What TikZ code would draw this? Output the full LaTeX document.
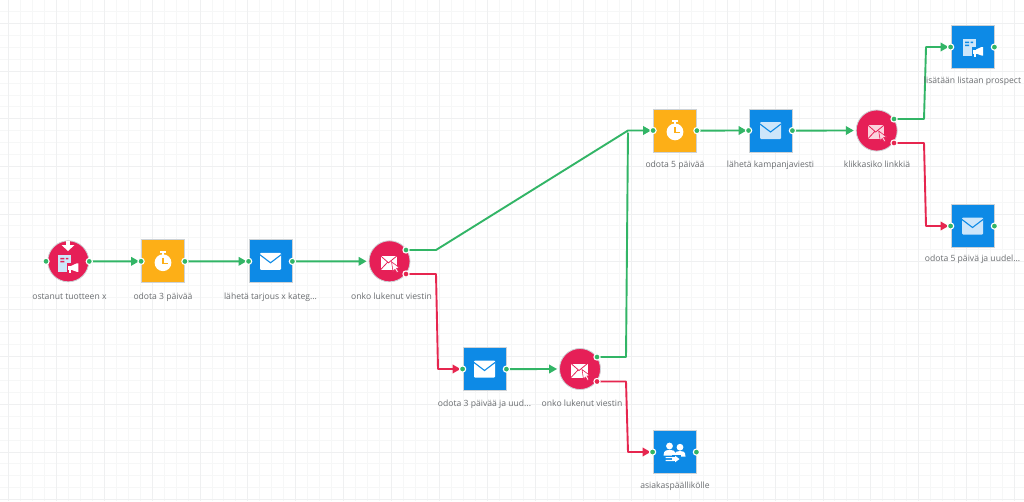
\documentclass[tikz,border=0pt]{standalone}
\usepackage{fontspec}
\setmainfont{Open Sans}
\usetikzlibrary{arrows.meta,calc}
\definecolor{bluebox}{HTML}{0D8AE6}
\definecolor{amberbox}{HTML}{FDAF17}
\definecolor{redbox}{HTML}{E61F57}
\definecolor{okline}{HTML}{32B566}
\definecolor{noline}{HTML}{E6264F}
\definecolor{gridminor}{HTML}{F6F7F7}
\definecolor{gridmajor}{HTML}{EFF0F1}
\definecolor{edgegray}{HTML}{CDD2D6}
\definecolor{txtgray}{HTML}{6A6D70}
\definecolor{palemail}{HTML}{CDE6FA}
\definecolor{palered}{HTML}{FBD3DE}
\tikzset{
  x=1pt,y=-1pt,
  sqbox/.style={draw=edgegray,line width=0.8pt,minimum size=43pt,inner sep=0pt,rectangle},
  rndbox/.style={draw=edgegray,line width=0.8pt,fill=redbox,minimum size=41pt,inner sep=0pt,circle},
  bluesq/.style={sqbox,fill=bluebox},
  ambersq/.style={sqbox,fill=amberbox},
  portdot/.style={circle,fill=okline,draw=white,line width=1.1pt,minimum size=6.2pt,inner sep=0pt},
  reddot/.style={portdot,fill=noline},
  caption/.style={text=txtgray,font=\fontsize{8.6}{10}\selectfont,inner sep=0pt,anchor=base},
  link/.style={line width=1.9pt,line join=round,-{Triangle[length=8pt,width=8.5pt]},shorten >=2pt},
  yeslink/.style={link,draw=okline},
  nolink/.style={link,draw=noline},
}
% envelope: #1 centre, #2 fill, #3 fold colour
\newcommand\mailglyph[3]{\begin{scope}[shift={(#1)}]
  \fill[#2,rounded corners=1pt] (-10.5,-8.5) rectangle (10.5,8.5);
  \draw[#3,line width=1.1pt] (-10.5,-6.5) -- (0,1.5) -- (10.5,-6.5);
\end{scope}}
% clicked envelope on a circle
\newcommand\clickglyph[3]{\begin{scope}[shift={(#1)}]
  \fill[#2] (-9,-5.5) rectangle (7.5,8.5);
  \draw[#3,line width=0.8pt] (-9,-5.5) -- (-1,1.5) -- (7.5,-5.5) (-9,8.5) -- (-2,1);
  \fill[#2,draw=#3,line width=0.6pt] (2,0.5) -- (10,6.5) -- (7,7) -- (9,10.5) -- (7.5,11.5) -- (5.5,8) -- (3.5,10) -- cycle;
\end{scope}}
% stopwatch
\newcommand\watchglyph[2]{\begin{scope}[shift={(#1)}]
  \fill[white] (0,1.4) circle (8.4);
  \fill[white] (-2.6,-10.5) rectangle (2.6,-8.6);
  \fill[white] (-1,-9) rectangle (1,-6);
  \draw[#2,line width=1.1pt] (0,-3.5) -- (0,2.4) -- (4.5,2.4);
\end{scope}}
% list sheet with megaphone
\newcommand\listglyph[2]{\begin{scope}[shift={(#1)}]
  \fill[palemail] (-9.5,-8.5) rectangle (3.5,8.5);
  \fill[#2] (-7.5,-5.5) rectangle (-3.5,-4) (-2,-5.5) rectangle (0.5,-4) (-7.5,-2.5) rectangle (-3.5,-1);
  \fill[#2] (-0.5,-0.5) rectangle (11,10);
  \fill[white] (0.5,2.5) rectangle (4,6.5);
  \fill[white] (3.5,2.5) -- (9,0) -- (10.5,0) -- (10.5,8.5) -- (9,8.5) -- (3.5,6.5) -- cycle;
  \fill[white] (1.2,6.5) rectangle (3.6,10);
\end{scope}}
% two people with an arrow
\newcommand\peopleglyph[2]{\begin{scope}[shift={(#1)}]
  \fill[white] (-5,-6) circle (3.4);
  \fill[white] (5.5,-4.8) circle (3.4);
  \fill[white] (-11,3.5) .. controls (-11,-2) and (-7,-2.2) .. (-5,-2.2) .. controls (-2,-2.2) and (1,-2) .. (1,3.5) -- cycle;
  \fill[white] (0,4.5) .. controls (0,-1) and (3,-1) .. (5.5,-1) .. controls (8,-1) and (11,-1) .. (11,4.5) -- cycle;
  \fill[#2] (-3,3.2) rectangle (6,10.5);
  \fill[white] (-9,5) rectangle (-0.5,6.2) (-9,7.8) rectangle (-0.5,9);
  \fill[white] (-3,5.2) rectangle (1,8.8);
  \fill[white] (0.5,3.7) -- (5,7) -- (0.5,10.3) -- cycle;
\end{scope}}
\begin{document}
\begin{tikzpicture}
\useasboundingbox (0,0) rectangle (1024,501);
\fill[white] (0,0) rectangle (1024,501);
% grid
\foreach \i in {0,...,85} \draw[gridminor,line width=0.9pt] ({8.3+11.98*\i},0) -- ({8.3+11.98*\i},501);
\foreach \j in {0,...,41} \draw[gridminor,line width=0.9pt] (0,{-0.2+11.9*\j}) -- (1024,{-0.2+11.9*\j});
\foreach \i in {0,...,21} \draw[gridmajor,line width=0.9pt] ({8.3+47.92*\i},0) -- ({8.3+47.92*\i},501);
\foreach \j in {0,...,10} \draw[gridmajor,line width=0.9pt] (0,{23.6+47.6*\j}) -- (1024,{23.6+47.6*\j});

% step boxes
\node[rndbox] (buy) at (68.3,261.3) {};
\node[ambersq] (wait3) at (163,261.3) {};
\node[bluesq] (offer) at (270.5,261.3) {};
\node[rndbox] (read1) at (389.5,261.3) {};
\node[bluesq] (resend) at (484.5,369) {};
\node[rndbox] (read2) at (580,369) {};
\node[bluesq] (manager) at (674.5,452) {};
\node[ambersq] (wait5) at (675,130.5) {};
\node[bluesq] (campaign) at (770.5,130.5) {};
\node[rndbox] (click) at (876.7,130.5) {};
\node[bluesq] (prospect) at (972.5,47) {};
\node[bluesq] (again) at (972.5,226) {};

% bend points and ports
\coordinate (buyOut) at (89.3,261.4);
\coordinate (buyIn) at (46,261.3);
\foreach \n in {wait3,offer,resend,manager,wait5,campaign,prospect,again} {
  \coordinate (\n In) at (\n.west);
  \coordinate (\n Out) at ($(\n.east)+(0,0.1)$);
}
\coordinate (read1Yes) at (406,250);
\coordinate (read1No) at (406,274);
\coordinate (read2Yes) at (597,357);
\coordinate (read2No) at (597,381.5);
\coordinate (clickYes) at (894,119);
\coordinate (clickNo) at (894,143);

% connectors
\draw[yeslink] (buyOut) -- (wait3In);
\draw[yeslink] (wait3Out) -- (offerIn);
\draw[yeslink] (offerOut) -- (read1.west);
\draw[yeslink] (read1Yes) -- (436,250) -- (628,130.5) -- (wait5In);
\draw[nolink] (read1No) -- (436,274) -- (438,369) -- (resendIn);
\draw[yeslink] (resendOut) -- (read2.west);
\draw[yeslink,-] (read2Yes) -- (626,357) -- (628,130.5);
\draw[nolink] (read2No) -- (626,381.5) -- (628,452) -- (managerIn);
\draw[yeslink] (wait5Out) -- (campaignIn);
\draw[yeslink] (campaignOut) -- (click.west);
\draw[yeslink] (clickYes) -- (924,119) -- (926,47) -- (prospectIn);
\draw[nolink] (clickNo) -- (924,143) -- (926,226) -- (againIn);

% ports
\node[portdot] (p1) at (buyIn) {};
\node[portdot] (p2) at (buyOut) {};
\foreach \n in {wait3,offer,resend,manager,wait5,campaign,prospect,again} {
  \node[portdot] at (\n In) {};
  \node[portdot] at (\n Out) {};
}
\node[portdot] (p3) at (read1Yes) {};
\node[reddot] (p4) at (read1No) {};
\node[portdot] (p5) at (read2Yes) {};
\node[reddot] (p6) at (read2No) {};
\node[portdot] (p7) at (clickYes) {};
\node[reddot] (p8) at (clickNo) {};

% icons
\listglyph{$(buy)+(-0.5,2)$}{redbox}
\fill[white] (65.6,240.5) rectangle (70.4,245.5);
\fill[white] (61.5,245) -- (74.5,245) -- (68,251) -- cycle;
\watchglyph{wait3}{amberbox}
\watchglyph{wait5}{amberbox}
\mailglyph{offer}{white}{bluebox}
\mailglyph{resend}{white}{bluebox}
\mailglyph{campaign}{palemail}{bluebox}
\mailglyph{again}{palemail}{bluebox}
\clickglyph{read1}{white}{redbox}
\clickglyph{read2}{white}{redbox}
\clickglyph{click}{palered}{redbox}
\peopleglyph{manager}{bluebox}
\listglyph{prospect}{bluebox}

% captions
\node[caption] (t1) at (69.5,299) {ostanut tuotteen x};
\node[caption] (t2) at (163,299) {odota 3 päivää};
\node[caption] (t3) at (270.5,299) {lähetä tarjous x kateg...};
\node[caption] (t4) at (391.5,299) {onko lukenut viestin};
\node[caption] (t5) at (484.5,406) {odota 3 päivää ja uud...};
\node[caption] (t6) at (582,406) {onko lukenut viestin};
\node[caption] (t7) at (675,488.5) {asiakaspäällikölle};
\node[caption] (t8) at (675,167) {odota 5 päivää};
\node[caption] (t9) at (770.5,167) {lähetä kampanjaviesti};
\node[caption] (t10) at (877,167) {klikkasiko linkkiä};
\node[caption] (t11) at (972.5,83) {lisätään listaan prospect};
\node[caption] (t12) at (972.5,261.5) {odota 5 päivä ja uudel...};
\end{tikzpicture}
\end{document}
